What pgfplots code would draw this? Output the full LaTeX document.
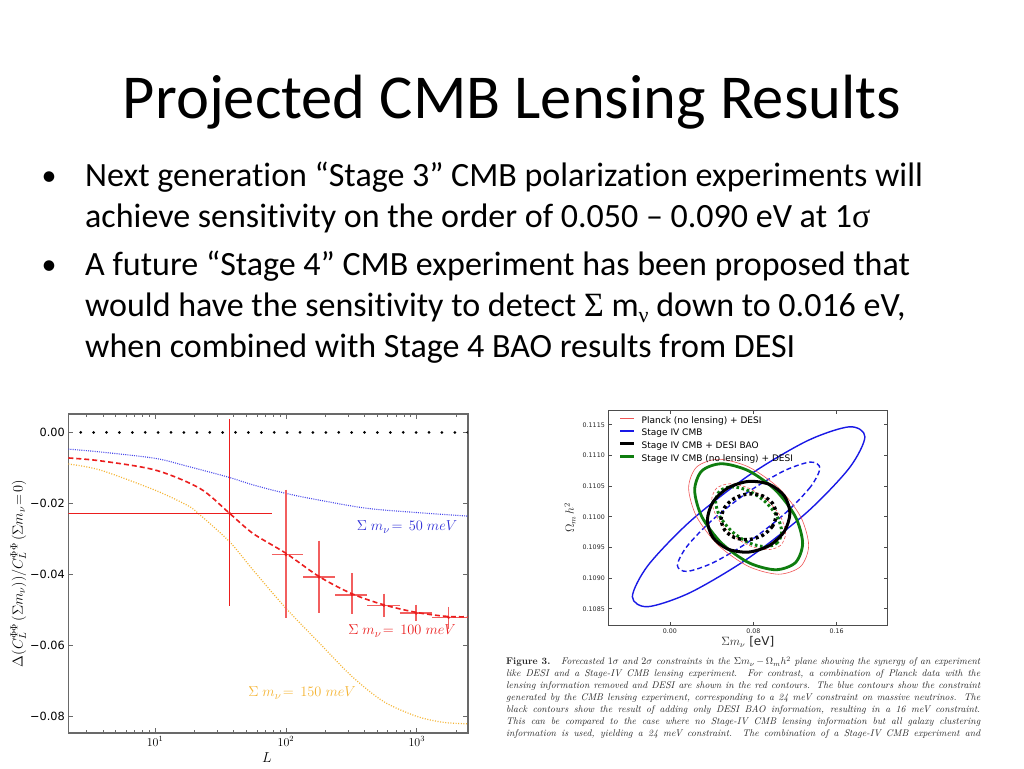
\documentclass[border=0pt]{standalone}
\usepackage{fontspec}
\usepackage{pgfplots}
\pgfplotsset{compat=1.18}
\newfontfamily\calibri[Ligatures=NoCommon]{Carlito}
\newfontfamily\dejavu{DejaVu Sans}
\newfontfamily\tnr{Liberation Serif}
\definecolor{axgray}{RGB}{105,105,105}
\definecolor{mplred}{RGB}{235,30,30}
\definecolor{mplpink}{RGB}{242,95,95}
\definecolor{mplblue}{RGB}{70,70,235}
\definecolor{lblblue}{RGB}{45,45,215}
\definecolor{mplorange}{RGB}{245,180,50}
\definecolor{ellred}{RGB}{240,85,85}
\definecolor{ellblue}{RGB}{25,25,230}
\definecolor{ellgreen}{RGB}{15,125,15}
\begin{document}
\begin{tikzpicture}
\useasboundingbox (0pt,0pt) rectangle (1024pt,-768pt);
\fill[white] (0pt,0pt) rectangle (1024pt,-768pt);
% title
\node[anchor=base, inner sep=0] at (512pt,-118pt) {\calibri\fontsize{62.5}{70}\selectfont Projected CMB Lensing Results};
% bullets
\node[anchor=base, inner sep=0] at (49pt,-185pt) {\calibri\fontsize{30}{36}\selectfont •};
\node[anchor=base, inner sep=0] at (49pt,-274pt) {\calibri\fontsize{30}{36}\selectfont •};
\node[anchor=base west, inner sep=0] at (85pt,-186pt) {\calibri\fontsize{34}{40}\selectfont Next generation “Stage 3” CMB polarization experiments will};
\node[anchor=base west, inner sep=0] at (85pt,-227pt) {\calibri\fontsize{34}{40}\selectfont achieve sensitivity on the order of 0.050 – 0.090 eV at 1{\tnr σ}};
\node[anchor=base west, inner sep=0] at (85pt,-275pt) {\calibri\fontsize{34}{40}\selectfont A future “Stage 4” CMB experiment has been proposed that};
\node[anchor=base west, inner sep=0] at (85pt,-316pt) {\calibri\fontsize{34}{40}\selectfont would have the sensitivity to detect {\tnr Σ} m\raisebox{-6pt}{\tnr\fontsize{22}{24}\selectfont ν} down to 0.016 eV,};
\node[anchor=base west, inner sep=0] at (85pt,-357pt) {\calibri\fontsize{34}{40}\selectfont when combined with Stage 4 BAO results from DESI};

% ---------------- left plot ----------------
\begin{axis}[
  at={(68.3pt,-733pt)}, anchor=south west, scale only axis,
  width=399.4pt, height=319pt,
  xmode=log, log basis x=10,
  xmin=2.17, xmax=2450, ymin=-0.0848, ymax=0.0052,
  scaled ticks=false,
  axis line style={axgray, line width=1.6pt},
  every tick/.style={axgray, line width=0.8pt},
  tick align=inside, major tick length=5pt, minor tick length=3pt,
  xtick={10,100,1000}, xticklabels={$10^{1}$,$10^{2}$,$10^{3}$},
  minor xtick={3,4,5,6,7,8,9,20,30,40,50,60,70,80,90,200,300,400,500,600,700,800,900,2000},
  ytick={-0.08,-0.06,-0.04,-0.02,0}, yticklabels={−0.08,−0.06,−0.04,−0.02,0.00},
  yticklabel style={font=\dejavu\fontsize{11.3}{13}\selectfont},
  xticklabel style={font=\fontsize{12}{14}\selectfont},
  xlabel={$L$},
  ylabel={$\Delta(C_L^{\Phi\Phi}\,(\Sigma m_\nu))/C_L^{\Phi\Phi}\,(\Sigma m_\nu\!=\!0)$},
  xlabel style={at={(axis description cs:0.4975,-0.078)}, anchor=center, font=\fontsize{15}{17}\selectfont},
  ylabel style={at={(axis description cs:-0.125,0.5)}, anchor=center, font=\fontsize{14.5}{16}\selectfont},
  unbounded coords=jump,
]
\addplot[black, line width=3pt, line cap=round, dash pattern=on 0pt off 12.9pt, dash phase=0.5pt, forget plot] coordinates {(2.17,0) (2450,0)};
\addplot[mplblue, line width=1.1pt, dash pattern=on 1pt off 1.2pt, smooth, forget plot] coordinates {
(2.17,-0.0047) (3.8,-0.0055) (10,-0.0073) (17.5,-0.0095) (37,-0.0127) (56,-0.0148) (100,-0.0172) (180,-0.0191) (415,-0.0214) (1000,-0.0226) (2450,-0.0236)};
\addplot[mplorange, line width=1.2pt, dash pattern=on 1pt off 1.6pt, smooth, forget plot] coordinates {
(2.17,-0.0089) (3.8,-0.0106) (10,-0.0163) (17.5,-0.0205) (21,-0.0226) (37,-0.0308) (56,-0.0388) (100,-0.0496) (180,-0.0594) (319,-0.0688) (556,-0.0759) (1000,-0.0801) (1600,-0.0818) (2450,-0.0822)};
% error bars
\addplot[forget plot, mplred, line width=1.5pt] coordinates {(2.17,-0.0228) (78,-0.0228) (nan,nan) (37,0.0037) (37,-0.0491)};
\addplot[forget plot, mplpink, line width=1.5pt] coordinates {
(78,-0.0345) (136,-0.0345) (nan,nan)
(100,-0.0161) (100,-0.0524) (nan,nan)
(136,-0.0408) (238,-0.0408) (nan,nan)
(179,-0.0305) (179,-0.0508) (nan,nan)
(238,-0.0458) (420,-0.0458) (nan,nan)
(319,-0.0397) (319,-0.0512) (nan,nan)
(420,-0.0488) (738,-0.0488) (nan,nan)
(560,-0.0455) (560,-0.0522) (nan,nan)
(738,-0.0510) (1313,-0.0510) (nan,nan)
(988,-0.0486) (988,-0.0531) (nan,nan)
(1313,-0.0522) (2450,-0.0522) (nan,nan)
(1750,-0.0492) (1750,-0.0555)};
\addplot[mplred, line width=1.6pt, dash pattern=on 5pt off 3pt, smooth, forget plot] coordinates {
(2.17,-0.0072) (3.8,-0.0080) (10,-0.0106) (22,-0.0158) (37,-0.0228) (56,-0.0285) (100,-0.0341) (180,-0.0407) (319,-0.0455) (556,-0.0486) (1000,-0.0508) (1700,-0.0519) (2450,-0.0520)};
\addplot[forget plot, only marks, mark=*, mark size=1.3pt, mark options={draw=mplred, fill=mplred, solid}] coordinates {(37,-0.0228) (100,-0.0345) (179,-0.0408) (319,-0.0458) (560,-0.0488) (988,-0.0510) (1750,-0.0522)};
\end{axis}
\node[text=lblblue, inner sep=0] at (407pt,-527pt) {\fontsize{15.5}{18}\selectfont $\Sigma\;m_{\nu}\!=\,50\;meV$};
\node[text=mplred, inner sep=0] at (402pt,-631pt) {\fontsize{15.5}{18}\selectfont $\Sigma\;m_{\nu}\!=\,100\;meV$};
\node[text=mplorange, inner sep=0] at (302pt,-693pt) {\fontsize{15.5}{18}\selectfont $\Sigma\;m_{\nu}\!=\,150\;meV$};

% ---------------- right plot ----------------
\begin{axis}[
  at={(608.3pt,-625pt)}, anchor=south west, scale only axis,
  width=279pt, height=215pt,
  xmin=-0.0592, xmax=0.2086, ymin=0.108235, ymax=0.11174,
  axis line style={black!70, line width=0.8pt},
  every tick/.style={black!70, line width=0.6pt},
  tick align=inside, major tick length=3.5pt,
  scaled ticks=false,
  xtick={0,0.08,0.16}, xticklabels={0.00,0.08,0.16},
  ytick={0.1085,0.109,0.1095,0.11,0.1105,0.111,0.1115},
  yticklabels={0.1085,0.1090,0.1095,0.1100,0.1105,0.1110,0.1115},
  ticklabel style={font=\dejavu\fontsize{6.3}{7}\selectfont, text=black!85},
  xlabel={$\Sigma m_\nu$ {\dejavu [eV]}},
  ylabel={$\Omega_m\,h^2$},
  xlabel style={at={(axis description cs:0.5,-0.079)}, anchor=center, font=\fontsize{12}{14}\selectfont, text=black!85},
  ylabel style={at={(axis description cs:-0.137,0.5)}, anchor=center, font=\fontsize{12}{14}\selectfont, text=black!85},
  legend style={at={(axis description cs:0.025,0.985)}, anchor=north west, draw=none, fill=none,
    font=\dejavu\fontsize{9}{10}\selectfont, row sep=2pt, column sep=5pt,
    nodes={inner sep=1pt, text height=6.8pt, text depth=1.8pt}},
  legend cell align=left,
  legend image code/.code={\draw[#1] (0pt,2.5pt) -- (14pt,2.5pt);},
]
\addlegendimage{ellred, line width=0.7pt}
\addlegendentry{Planck (no lensing) + DESI}
\addlegendimage{ellblue, line width=1.8pt}
\addlegendentry{Stage IV CMB}
\addlegendimage{black, line width=3.2pt}
\addlegendentry{Stage IV CMB + DESI BAO}
\addlegendimage{ellgreen, line width=3pt}
\addlegendentry{Stage IV CMB (no lensing) + DESI}
% blue
\addplot[ellblue, line width=1.4pt, smooth cycle, forget plot] coordinates {
(0.1871,0.111304) (0.1721,0.110794) (0.1313,0.110070) (0.0755,0.109328) (0.0197,0.108766) (-0.0211,0.108534) (-0.0361,0.108696) (-0.0211,0.109206) (0.0197,0.109930) (0.0755,0.110672) (0.1313,0.111234) (0.1721,0.111466)};
\addplot[ellblue, line width=1.4pt, dash pattern=on 5pt off 3pt, smooth cycle, forget plot] coordinates {
(0.1439,0.110793) (0.1347,0.110483) (0.1097,0.110043) (0.0755,0.109591) (0.0413,0.109250) (0.0163,0.109109) (0.0071,0.109207) (0.0163,0.109517) (0.0413,0.109957) (0.0755,0.110409) (0.1097,0.110750) (0.1347,0.110891)};
% red
\addplot[ellred, line width=0.6pt, smooth cycle, forget plot] coordinates {
(0.1331,0.109531) (0.1254,0.109189) (0.1043,0.109063) (0.0755,0.109189) (0.0467,0.109531) (0.0256,0.110000) (0.0179,0.110469) (0.0256,0.110811) (0.0467,0.110937) (0.0755,0.110811) (0.1043,0.110469) (0.1254,0.110000)};
\addplot[ellred, line width=0.6pt, dash pattern=on 3pt off 2pt, smooth cycle, forget plot] coordinates {
(0.1110,0.109731) (0.1062,0.109534) (0.0933,0.109462) (0.0755,0.109534) (0.0578,0.109731) (0.0448,0.110000) (0.0400,0.110269) (0.0448,0.110466) (0.0578,0.110538) (0.0755,0.110466) (0.0933,0.110269) (0.1062,0.110000)};
% green
\addplot[ellgreen, line width=2.8pt, smooth cycle, forget plot] coordinates {
(0.1273,0.109568) (0.1204,0.109252) (0.1014,0.109136) (0.0755,0.109252) (0.0496,0.109568) (0.0306,0.110000) (0.0237,0.110432) (0.0306,0.110748) (0.0496,0.110864) (0.0755,0.110748) (0.1014,0.110432) (0.1204,0.110000)};
\addplot[ellgreen, line width=3pt, dash pattern=on 2.6pt off 2.6pt, smooth cycle, forget plot] coordinates {
(0.1072,0.109755) (0.1030,0.109577) (0.0914,0.109511) (0.0755,0.109577) (0.0597,0.109755) (0.0480,0.110000) (0.0438,0.110245) (0.0480,0.110423) (0.0597,0.110489) (0.0755,0.110423) (0.0914,0.110245) (0.1030,0.110000)};
% black
\addplot[black, line width=3pt, smooth cycle, forget plot] coordinates {
(0.1151,0.110058) (0.1098,0.109762) (0.0953,0.109530) (0.0755,0.109424) (0.0557,0.109472) (0.0412,0.109662) (0.0359,0.109942) (0.0412,0.110238) (0.0557,0.110470) (0.0755,0.110576) (0.0953,0.110528) (0.1098,0.110338)};
\addplot[black, line width=3.4pt, dash pattern=on 3pt off 3pt, smooth cycle, forget plot] coordinates {
(0.1019,0.110038) (0.0984,0.109846) (0.0887,0.109695) (0.0755,0.109627) (0.0623,0.109658) (0.0526,0.109781) (0.0491,0.109962) (0.0526,0.110154) (0.0623,0.110305) (0.0755,0.110373) (0.0887,0.110342) (0.0984,0.110219)};
\end{axis}

% caption
\node[anchor=north west, inner sep=0, align=left, text=black!85, font=\fontsize{9.7}{12}\selectfont\itshape] at (506pt,-656.5pt) {%
\makebox[474pt][s]{\textbf{\upshape Figure 3.}\hspace{1.1em}Forecasted $1\sigma$ and $2\sigma$ constraints in the $\Sigma m_\nu\,{-}\,\Omega_m h^2$ plane showing the synergy of an experiment}\\
\makebox[474pt][s]{like DESI and a Stage-IV CMB lensing experiment.\ \ For contrast, a combination of Planck data with the}\\
\makebox[474pt][s]{lensing information removed and DESI are shown in the red contours. The blue contours show the constraint}\\
\makebox[474pt][s]{generated by the CMB lensing experiment, corresponding to a 24 meV constraint on massive neutrinos. The}\\
\makebox[474pt][s]{black contours show the result of adding only DESI BAO information, resulting in a 16 meV constraint.}\\
\makebox[474pt][s]{This can be compared to the case where no Stage-IV CMB lensing information but all galaxy clustering}\\
\makebox[474pt][s]{information is used, yielding a 24 meV constraint.\ \ The combination of a Stage-IV CMB experiment and}};
\end{tikzpicture}
\end{document}
